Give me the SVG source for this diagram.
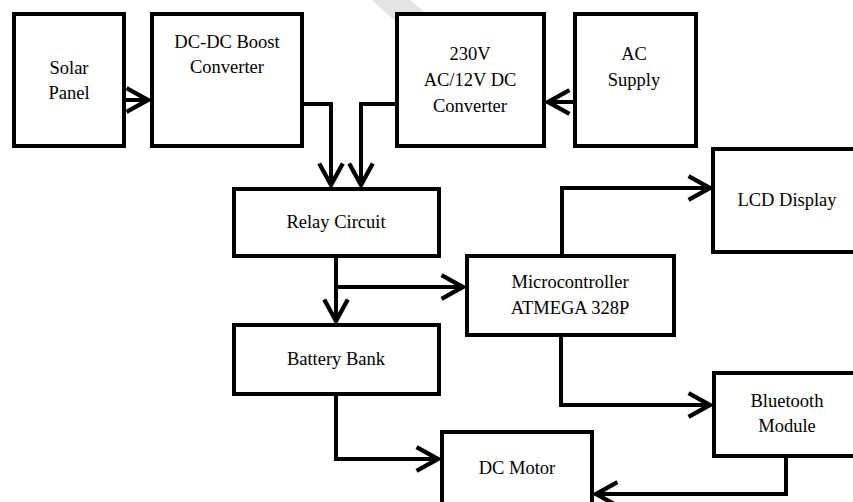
<svg xmlns="http://www.w3.org/2000/svg" width="853" height="502" viewBox="0 0 853 502">
<style>
  .box { fill: #ffffff; stroke: #000000; stroke-width: 4; }
  .lbl { font-family: "Liberation Serif", "Times New Roman", serif; font-size: 18.5px; fill: #000000; text-anchor: middle; }
  .wire { fill: none; stroke: #000000; stroke-width: 4; stroke-linejoin: miter; }
</style>
<defs>
  <marker id="arr" markerUnits="userSpaceOnUse" markerWidth="30" markerHeight="30" viewBox="-24 -14 28 28" refX="0" refY="0" orient="auto" overflow="visible">
    <path d="M -20 -11 L 0 0 L -20 11" fill="none" stroke="#000000" stroke-width="4" stroke-linejoin="miter"/>
  </marker>
</defs>
<rect width="853" height="502" fill="#ffffff"/>
<polygon points="372,0 410,0 445,30 405,30" fill="#e4e4e4"/>

<g id="connectors">
  <path class="wire" d="M 126 100 L 148 100" marker-end="url(#arr)"/>
  <path class="wire" d="M 304 104 L 331 104 L 331 185" marker-end="url(#arr)"/>
  <path class="wire" d="M 395 104 L 361 104 L 361 185" marker-end="url(#arr)"/>
  <path class="wire" d="M 573 102 L 548 102" marker-end="url(#arr)"/>
  <path class="wire" d="M 336 258 L 336 321" marker-end="url(#arr)"/>
  <path class="wire" d="M 336 287 L 463 287" marker-end="url(#arr)"/>
  <path class="wire" d="M 562 254 L 562 188 L 710 188" marker-end="url(#arr)"/>
  <path class="wire" d="M 561 337 L 561 405 L 710 405" marker-end="url(#arr)"/>
  <path class="wire" d="M 336 396 L 336 459 L 438 459" marker-end="url(#arr)"/>
  <path class="wire" d="M 786 458 L 786 494 L 596 494" marker-end="url(#arr)"/>
</g>

<g id="solar-panel">
  <rect class="box" x="14" y="14" width="110" height="132"/>
  <text class="lbl" x="69" y="74">Solar</text>
  <text class="lbl" x="69" y="99">Panel</text>
</g>
<g id="dc-dc-boost">
  <rect class="box" x="152" y="14" width="150" height="132"/>
  <text class="lbl" x="227" y="48">DC-DC Boost</text>
  <text class="lbl" x="227" y="73">Converter</text>
</g>
<g id="ac-dc-converter">
  <rect class="box" x="397" y="14" width="147" height="132"/>
  <text class="lbl" x="470" y="60">230V</text>
  <text class="lbl" x="470" y="86">AC/12V DC</text>
  <text class="lbl" x="470" y="112">Converter</text>
</g>
<g id="ac-supply">
  <rect class="box" x="575" y="14" width="121" height="132"/>
  <text class="lbl" x="634" y="60">AC</text>
  <text class="lbl" x="634" y="86">Supply</text>
</g>
<g id="relay-circuit">
  <rect class="box" x="234" y="189" width="205" height="67"/>
  <text class="lbl" x="336" y="228">Relay Circuit</text>
</g>
<g id="microcontroller">
  <rect class="box" x="467" y="256" width="207" height="79"/>
  <text class="lbl" x="570" y="288">Microcontroller</text>
  <text class="lbl" x="570" y="314">ATMEGA 328P</text>
</g>
<g id="lcd-display">
  <rect class="box" x="713" y="149" width="160" height="103"/>
  <text class="lbl" x="787" y="206">LCD Display</text>
</g>
<g id="battery-bank">
  <rect class="box" x="234" y="325" width="205" height="69"/>
  <text class="lbl" x="336" y="365">Battery Bank</text>
</g>
<g id="bluetooth-module">
  <rect class="box" x="714" y="373" width="160" height="83"/>
  <text class="lbl" x="787" y="407">Bluetooth</text>
  <text class="lbl" x="787" y="432">Module</text>
</g>
<g id="dc-motor">
  <rect class="box" x="442" y="432" width="150" height="80"/>
  <text class="lbl" x="517" y="474">DC Motor</text>
</g>
</svg>
